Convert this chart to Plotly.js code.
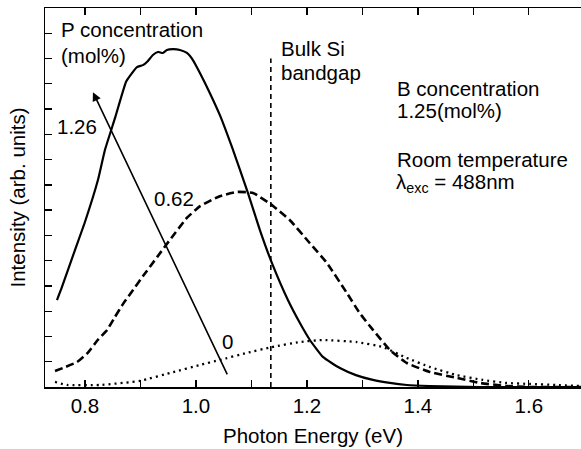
<!DOCTYPE html>
<html>
<head>
<meta charset="utf-8">
<script src="https://cdn.plot.ly/plotly-3.0.1.min.js"></script>
<style>
html,body{margin:0;padding:0;background:#fff;}
#chart{width:581px;height:449px;}
</style>
</head>
<body>
<div id="chart"></div>
<script>
// Photon energy (eV) and intensity (arb. units)
const energyP126 = [0.7496,0.7586,0.7820,0.8000,0.8234,0.8360,0.8541,0.8739,0.8811,0.8937,0.9045,0.9117,0.9225,0.9315,0.9405,0.9477,0.9586,0.9712,0.9838,0.9946,1.0072,1.0252,1.0432,1.0649,1.0937,1.1153,1.1369,1.1658,1.1874,1.2054,1.2288,1.2595,1.2883,1.3189,1.3495,1.3802,1.4216,1.5117,1.6937];
const intensityP126 = [3.44,3.96,5.42,6.53,8.19,9.38,10.64,12.07,12.31,12.66,12.74,12.86,13.14,13.26,13.22,13.34,13.37,13.34,13.22,12.94,12.43,11.63,10.76,9.50,7.68,6.21,4.91,3.44,2.53,1.86,1.19,0.75,0.47,0.28,0.16,0.08,0.04,0.0,0.0];

const energyP062 = [0.746,0.760,0.786,0.805,0.823,0.840,0.854,0.869,0.887,0.905,0.930,0.953,0.984,1.007,1.043,1.074,1.103,1.137,1.169,1.205,1.236,1.272,1.295,1.319,1.350,1.380,1.422,1.470,1.512,1.560,1.602,1.694];
const intensityP062 = [0.63,0.75,0.99,1.35,1.86,2.26,2.77,3.30,3.85,4.40,5.14,5.82,6.70,7.15,7.55,7.72,7.68,7.20,6.61,5.70,4.91,3.72,2.93,2.26,1.46,0.95,0.59,0.36,0.16,0.04,0.0,0.0];

const energyP0 = [0.746,0.768,0.827,0.899,0.959,1.007,1.043,1.092,1.137,1.187,1.229,1.290,1.337,1.380,1.422,1.470,1.517,1.560,1.602,1.650,1.694];
const intensityP0 = [0.20,0.08,0.08,0.24,0.59,0.87,1.07,1.35,1.58,1.78,1.86,1.78,1.58,1.15,0.79,0.47,0.28,0.16,0.12,0.08,0.04];

// Bulk Si bandgap marker
const bandgapE = [1.135, 1.135];
const bandgapI = [0, 13.0];

// Arrow (tail -> head) indicating increasing P concentration
const arrowTail = [1.0577, 0.44];
const arrowHead = [0.8144, 11.67];

const xTickVals = [0.8, 1.0, 1.2, 1.4, 1.6];
const xTickText = ['0.8', '1.0', '1.2', '1.4', '1.6'];

const FONT = '"Liberation Sans", Arial, Helvetica, sans-serif';
const FS = 20.5;

const traces = [
  {x: energyP126, y: intensityP126, mode: 'lines', line: {color: '#000', width: 2.2, shape: 'spline', smoothing: 0.4}, hoverinfo: 'skip'},
  {x: energyP062, y: intensityP062, mode: 'lines', line: {color: '#000', width: 2.6, dash: '8px,4px', shape: 'spline', smoothing: 0.4}, hoverinfo: 'skip'},
  {x: energyP0, y: intensityP0, mode: 'lines', line: {color: '#000', width: 2.3, dash: '2px,4px', shape: 'spline', smoothing: 0.4}, hoverinfo: 'skip'},
  {x: bandgapE, y: bandgapI, mode: 'lines', line: {color: '#000', width: 1.6, dash: '5px,4px'}, hoverinfo: 'skip'}
];

function label(text, x, y) {
  return {text: text, x: x, y: y, xref: 'x', yref: 'y', xanchor: 'left', yanchor: 'middle',
          showarrow: false, font: {family: FONT, size: FS, color: '#000'}};
}

const annotations = [
  label('P concentration', 0.7525, 14.16),
  label('(mol%)', 0.7525, 13.12),
  label('1.26', 0.746, 10.33),
  label('0.62', 0.9207, 7.48),
  label('0', 1.0432, 1.82),
  label('Bulk Si', 1.1496, 13.38),
  label('bandgap', 1.1496, 12.43),
  label('B concentration', 1.3586, 11.80),
  label('1.25(mol%)', 1.3586, 10.94),
  label('Room temperature', 1.3586, 9.02),
  label('λ<sub>exc</sub> = 488nm', 1.3568, 8.08),
  {x: arrowHead[0], y: arrowHead[1], ax: arrowTail[0], ay: arrowTail[1], xref: 'x', yref: 'y',
   axref: 'x', ayref: 'y', text: '', showarrow: true, arrowhead: 2, arrowsize: 1.1, arrowwidth: 1.6,
   arrowcolor: '#000', standoff: 0, startstandoff: 0}
];

const layout = {
  width: 581, height: 449,
  margin: {l: 45, r: 0, t: 8, b: 62},
  paper_bgcolor: '#fff', plot_bgcolor: '#fff',
  showlegend: false,
  font: {family: FONT, size: FS, color: '#000'},
  xaxis: {
    range: [0.728, 1.694],
    tickvals: xTickVals, ticktext: xTickText,
    ticks: 'inside', ticklen: 7, tickwidth: 1.3, tickcolor: '#000',
    minor: {dtick: 0.1, tick0: 0, ticks: 'inside', ticklen: 7, tickwidth: 1.3, tickcolor: '#000', showgrid: false},
    showline: true, linewidth: 1.5, linecolor: '#000', mirror: 'ticks',
    showgrid: false, zeroline: false,
    tickfont: {family: FONT, size: 20.5, color: '#000'},
    title: {text: 'Photon Energy (eV)', font: {family: FONT, size: FS, color: '#000'}, standoff: 12}
  },
  yaxis: {
    range: [0, 15], dtick: 1, tick0: 0,
    ticks: 'inside', ticklen: 7, tickwidth: 1.3, tickcolor: '#000',
    showticklabels: false,
    showline: true, linewidth: 1.5, linecolor: '#000',
    showgrid: false, zeroline: false,
    title: {text: 'Intensity (arb. units)', font: {family: FONT, size: FS, color: '#000'}, standoff: 12}
  },
  annotations: annotations
};

Plotly.newPlot('chart', traces, layout, {displayModeBar: false, staticPlot: true});
</script>
</body>
</html>
